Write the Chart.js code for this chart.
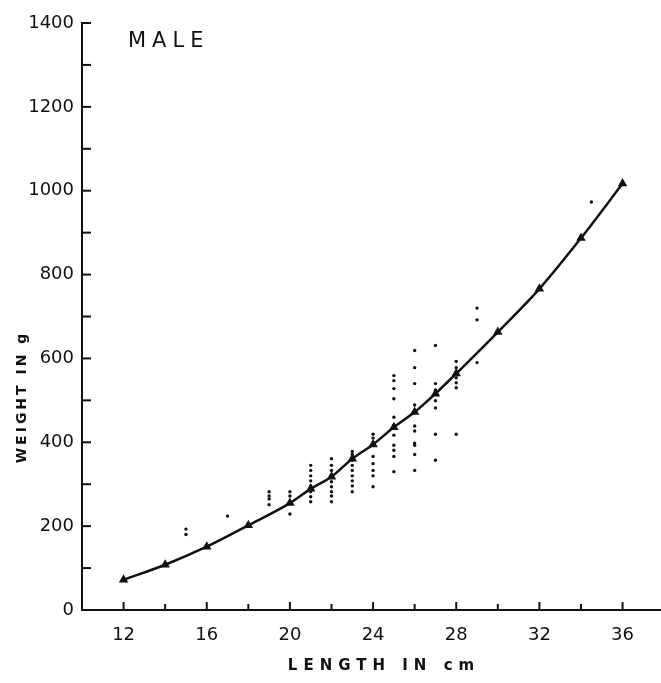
<!DOCTYPE html>
<html>
<head>
<meta charset="utf-8">
<title>Male weight vs length</title>
<script src="https://cdn.jsdelivr.net/npm/chart.js@4/dist/chart.umd.min.js"></script>
<style>
  html, body { margin: 0; padding: 0; background: #fff; }
  canvas { display: block; }
</style>
</head>
<body>
<canvas id="grafico" width="661" height="683"></canvas>
<script>
// Curva ajustada (puntos marcados sobre la curva)
const curveLength = [12, 14, 16, 18, 20, 21, 22, 23, 24, 25, 26, 27, 28, 30, 32, 34, 36];
const curveWeight = [72, 108, 151, 202, 255, 289, 318, 361, 395, 436, 472, 516, 564, 663, 766, 887, 1017];

// Observaciones individuales (puntos sueltos)
const obsLength = [
  15, 15,
  17,
  19, 19, 19, 19,
  20, 20, 20,
  21, 21, 21, 21, 21, 21, 21, 21,
  22, 22, 22, 22, 22, 22, 22, 22,
  23, 23, 23, 23, 23, 23, 23, 23, 23,
  24, 24, 24, 24, 24, 24, 24,
  25, 25, 25, 25, 25, 25, 25, 25, 25, 25, 25,
  26, 26, 26, 26, 26, 26, 26, 26, 26, 26,
  27, 27, 27, 27, 27, 27, 27,
  28, 28, 28, 28, 28, 28,
  29, 29, 29,
  34.5
];
const obsWeight = [
  193, 180,
  224,
  282, 272, 265, 251,
  282, 272, 229,
  345, 333, 320, 308, 296, 282, 270, 258,
  361, 345, 333, 306, 294, 282, 272, 258,
  378, 371, 357, 345, 333, 320, 308, 296, 282,
  419, 410, 366, 349, 333, 320, 294,
  559, 547, 528, 504, 460, 441, 417, 393, 381, 366, 330,
  619, 578, 540, 489, 439, 427, 398, 393, 371, 333,
  631, 540, 525, 499, 482, 419, 357,
  593, 578, 554, 542, 530, 419,
  720, 692, 590,
  973
];

// Marcas de los ejes
const xTickValues = [12, 14, 16, 18, 20, 22, 24, 26, 28, 30, 32, 34, 36];
const xLabelValues = [12, 16, 20, 24, 28, 32, 36];
const yTickValues = [100, 200, 300, 400, 500, 600, 700, 800, 900, 1000, 1100, 1200, 1300, 1400];
const yLabelValues = [0, 200, 400, 600, 800, 1000, 1200, 1400];

const ink = '#111';

// Marcas hacia adentro y textos con espaciado de letras
const marcasYTextos = {
  id: 'marcasYTextos',
  afterDraw(chart) {
    const ctx = chart.ctx;
    const x = chart.scales.x;
    const y = chart.scales.y;
    ctx.save();
    ctx.strokeStyle = ink;
    ctx.lineWidth = 2;
    xTickValues.forEach(v => {
      const px = x.getPixelForValue(v);
      const len = xLabelValues.includes(v) ? 8 : 6;
      ctx.beginPath();
      ctx.moveTo(px, y.bottom);
      ctx.lineTo(px, y.bottom - len);
      ctx.stroke();
    });
    yTickValues.forEach(v => {
      const py = y.getPixelForValue(v);
      ctx.beginPath();
      ctx.moveTo(x.left, py);
      ctx.lineTo(x.left + 9, py);
      ctx.stroke();
    });

    ctx.fillStyle = ink;
    ctx.textBaseline = 'middle';

    // Título eje X
    ctx.font = 'bold 15px "DejaVu Sans"';
    ctx.letterSpacing = '6px';
    ctx.textAlign = 'center';
    ctx.fillText('LENGTH IN cm', 384, 666);

    // Título eje Y
    ctx.save();
    ctx.translate(22, 397);
    ctx.rotate(-Math.PI / 2);
    ctx.font = 'bold 14px "DejaVu Sans"';
    ctx.letterSpacing = '3px';
    ctx.fillText('WEIGHT IN g', 0, 0);
    ctx.restore();

    // Rótulo del panel
    ctx.font = '21px "DejaVu Sans"';
    ctx.letterSpacing = '6px';
    ctx.textAlign = 'left';
    ctx.fillText('MALE', 128, 42);
    ctx.restore();
  }
};

const config = {
  data: {
    datasets: [
      {
        type: 'line',
        data: curveLength.map((l, i) => ({ x: l, y: curveWeight[i] })),
        borderColor: ink,
        backgroundColor: ink,
        borderWidth: 2.5,
        cubicInterpolationMode: 'monotone',
        pointStyle: 'triangle',
        pointRadius: 3,
        pointBackgroundColor: ink,
        pointBorderColor: ink,
        fill: false
      },
      {
        type: 'scatter',
        data: obsLength.map((l, i) => ({ x: l, y: obsWeight[i] })),
        pointRadius: 1.7,
        pointBackgroundColor: ink,
        pointBorderColor: ink,
        pointBorderWidth: 0
      }
    ]
  },
  options: {
    responsive: false,
    animation: false,
    layout: { autoPadding: false, padding: { top: 23, right: 1, left: 0, bottom: 0 } },
    plugins: {
      legend: { display: false },
      tooltip: { enabled: false }
    },
    scales: {
      x: {
        type: 'linear',
        position: 'bottom',
        min: 10,
        max: 37.8,
        border: { display: true, color: ink, width: 2 },
        grid: { display: true, drawOnChartArea: false, drawTicks: false, color: 'transparent' },
        afterBuildTicks: scale => {
          scale.ticks = xTickValues.map(v => ({ value: v }));
        },
        ticks: {
          autoSkip: false,
          maxRotation: 0,
          minRotation: 0,
          padding: 15,
          color: ink,
          font: { family: '"DejaVu Sans"', size: 18 },
          callback: v => xLabelValues.includes(v) ? String(v) : ''
        },
        afterFit: scale => {
          scale.height = 73;
          scale.paddingLeft = 0;
          scale.paddingRight = 0;
        }
      },
      y: {
        type: 'linear',
        min: 0,
        max: 1400,
        border: { display: true, color: ink, width: 2 },
        grid: { display: true, drawOnChartArea: false, drawTicks: false, color: 'transparent' },
        ticks: {
          stepSize: 100,
          autoSkip: false,
          padding: 8,
          color: ink,
          font: { family: '"DejaVu Sans"', size: 18 },
          callback: v => yLabelValues.includes(v) ? String(v) : ''
        },
        afterFit: scale => {
          scale.width = 82;
          scale.paddingTop = 0;
          scale.paddingBottom = 0;
        }
      }
    }
  },
  plugins: [marcasYTextos]
};

const ctx = document.getElementById('grafico').getContext('2d');
new Chart(ctx, config);
</script>
</body>
</html>
